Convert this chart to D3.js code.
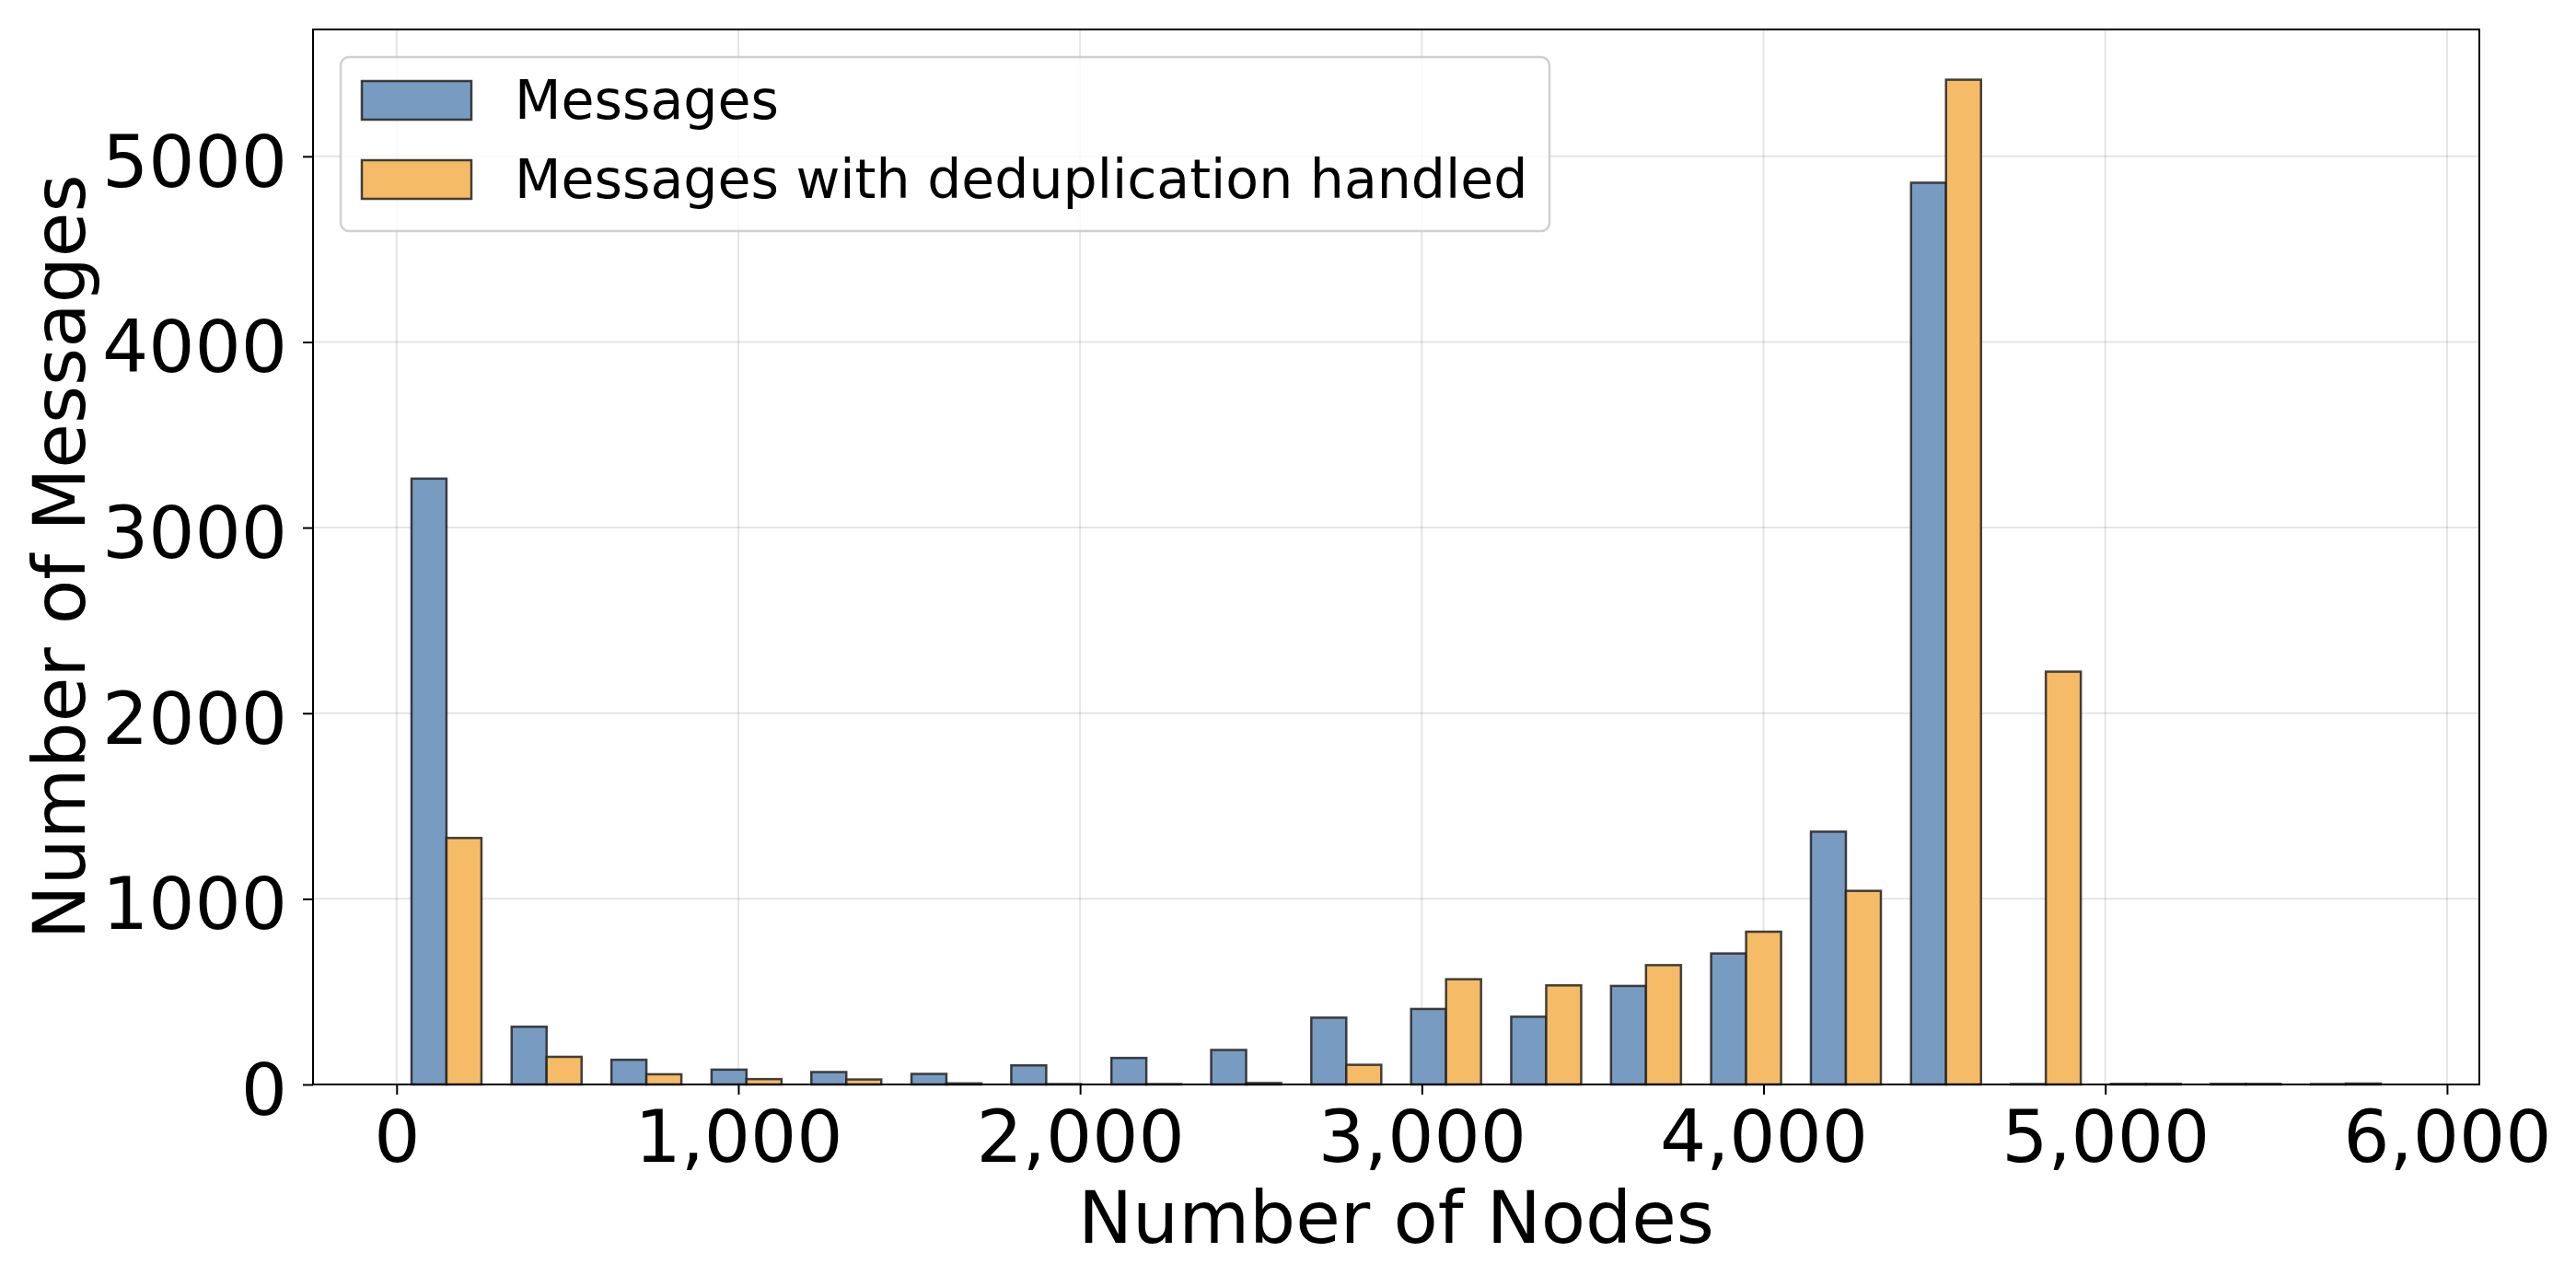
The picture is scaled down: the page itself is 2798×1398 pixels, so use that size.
<!DOCTYPE html>
<html>
<head>
<meta charset="utf-8">
<script src="https://cdn.jsdelivr.net/npm/d3@7"></script>
<style>
  html, body { margin: 0; padding: 0; background: #fff; }
  svg { display: block; }
  text { font-family: "DejaVu Sans", sans-serif; fill: #000; }
</style>
</head>
<body>
<svg id="chart" width="2798" height="1398"></svg>
<script>
// ---- data ----
const binCenters = [146, 439, 731, 1024, 1316, 1609, 1901, 2194, 2486, 2779,
                    3071, 3364, 3656, 3949, 4241, 4534, 4826, 5119, 5411, 5704];
const binWidth = 292.5;
const messages = [3264, 311, 133, 80, 67, 57, 103, 143, 186, 360,
                  407, 365, 531, 706, 1362, 4858, 2, 3, 3, 2];
const messagesDedup = [1328, 149, 55, 29, 27, 6, 2, 2, 8, 106,
                       567, 534, 643, 823, 1043, 5413, 2224, 3, 3, 5];
const seriesNames = ["Messages", "Messages with deduplication handled"];
const seriesColors = ["#789bc2", "#f5bb66"];
const xTicks = [0, 1000, 2000, 3000, 4000, 5000, 6000];
const yTicks = [0, 1000, 2000, 3000, 4000, 5000];
const xLabel = "Number of Nodes";
const yLabel = "Number of Messages";

// ---- layout ----
const plotLeft = 340, plotRight = 2693, plotTop = 32, plotBottom = 1178;
const barW = 0.35 * binWidth;

const svg = d3.select("#chart");

// x domain like matplotlib: bar extents + 5% margin
const xMinData = d3.min(binCenters) - barW;
const xMaxData = d3.max(binCenters) + barW;
const xPad = 0.05 * (xMaxData - xMinData);
const x = d3.scaleLinear().domain([xMinData - xPad, xMaxData + xPad]).range([plotLeft, plotRight]);
const yMax = 1.05 * d3.max(messages.concat(messagesDedup));
const y = d3.scaleLinear().domain([0, yMax]).range([plotBottom, plotTop]);

// grid
const grid = svg.append("g");
grid.selectAll("line.gx").data(xTicks).join("line")
  .attr("x1", d => x(d)).attr("x2", d => x(d))
  .attr("y1", plotTop).attr("y2", plotBottom)
  .attr("stroke", "#000").attr("stroke-opacity", 0.1).attr("stroke-width", 2);
grid.selectAll("line.gy").data(yTicks).join("line")
  .attr("x1", plotLeft).attr("x2", plotRight)
  .attr("y1", d => y(d)).attr("y2", d => y(d))
  .attr("stroke", "#000").attr("stroke-opacity", 0.1).attr("stroke-width", 2);

// bars
const series = [messages, messagesDedup];
series.forEach((vals, si) => {
  svg.append("g").selectAll("rect").data(vals).join("rect")
    .attr("x", (d, i) => x(binCenters[i] - barW + si * barW))
    .attr("width", (d, i) => x(binCenters[i] + si * barW) - x(binCenters[i] - barW + si * barW))
    .attr("y", d => y(d))
    .attr("height", d => y(0) - y(d))
    .attr("fill", seriesColors[si])
    .attr("stroke", "#222").attr("stroke-opacity", 0.85).attr("stroke-width", 2.5);
});

// axes
const xAxis = d3.axisBottom(x).tickValues(xTicks).tickFormat(d3.format(","))
  .tickSize(11).tickPadding(17);
const gx = svg.append("g").attr("transform", `translate(0,${plotBottom})`).call(xAxis);
gx.select(".domain").remove();
gx.selectAll(".tick line").attr("stroke", "#000").attr("stroke-width", 2);
gx.selectAll(".tick text").style("font-size", "79px").style("font-family", "DejaVu Sans");

const yAxis = d3.axisLeft(y).tickValues(yTicks).tickFormat(d3.format("d"))
  .tickSize(11).tickPadding(17);
const gy = svg.append("g").attr("transform", `translate(${plotLeft},0)`).call(yAxis);
gy.select(".domain").remove();
gy.selectAll(".tick line").attr("stroke", "#000").attr("stroke-width", 2);
gy.selectAll(".tick text").attr("dy", "0.41em")
  .style("font-size", "79px").style("font-family", "DejaVu Sans");

// frame
svg.append("rect").attr("x", plotLeft).attr("y", plotTop)
  .attr("width", plotRight - plotLeft).attr("height", plotBottom - plotTop)
  .attr("fill", "none").attr("stroke", "#000").attr("stroke-width", 2);

// axis labels
svg.append("text").attr("x", (plotLeft + plotRight) / 2).attr("y", 1350)
  .attr("text-anchor", "middle").style("font-size", "79px").text(xLabel);
svg.append("text")
  .attr("transform", `translate(92,${(plotTop + plotBottom) / 2}) rotate(-90)`)
  .attr("text-anchor", "middle").style("font-size", "79px").text(yLabel);

// legend
const lg = svg.append("g");
lg.append("rect").attr("x", 370).attr("y", 62).attr("width", 1313).attr("height", 189)
  .attr("rx", 9).attr("fill", "#fff").attr("fill-opacity", 0.8)
  .attr("stroke", "#d0d0d0").attr("stroke-width", 2.5);
seriesNames.forEach((name, i) => {
  const yy = 88 + i * 86;
  lg.append("rect").attr("x", 393).attr("y", yy).attr("width", 119).attr("height", 42)
    .attr("fill", seriesColors[i]).attr("stroke", "#222").attr("stroke-opacity", 0.85)
    .attr("stroke-width", 2.5);
  lg.append("text").attr("x", 559).attr("y", yy + 41)
    .style("font-size", "58.5px").text(name);
});
</script>
</body>
</html>
